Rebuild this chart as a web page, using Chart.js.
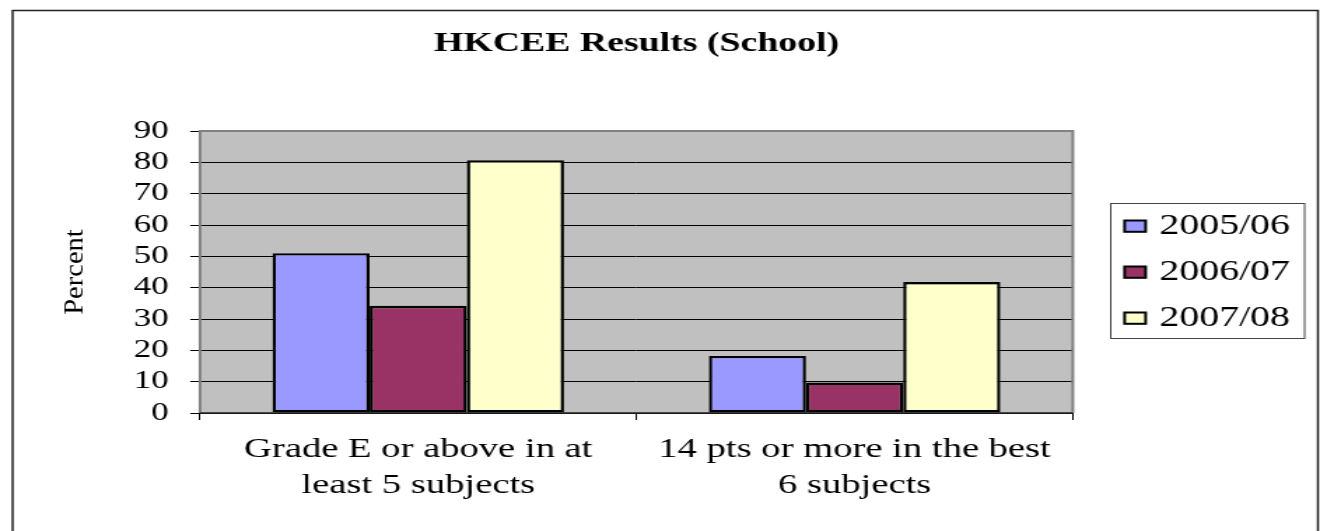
<!DOCTYPE html>
<html>
<head>
<meta charset="utf-8">
<script src="https://cdn.jsdelivr.net/npm/chart.js@4"></script>
<style>
  html, body { margin: 0; padding: 0; background: #fff; }
</style>
</head>
<body>
<!-- drawn narrow and stretched sideways, like the original picture -->
<canvas id="chart" width="943" height="531" style="display:block;width:1320px;height:531px"></canvas>
<script>
const categories = [
  ["Grade E or above in at", "least 5 subjects"],
  ["14 pts or more in the best", "6 subjects"],
]
const seriesNames = ["2005/06", "2006/07", "2007/08"]
const values0506 = [51, 18.2]
const values0607 = [34.2, 9.7]
const values0708 = [80.7, 41.8]
const seriesColors = ["#9999FF", "#993366", "#FFFFCC"]
const yMin = 0
const yMax = 90
const yStep = 10

const serif = "'Liberation Serif', 'Times New Roman', serif"

const frames = {
  id: "frames",
  beforeDraw(chart) {
    const { ctx, chartArea: a } = chart
    ctx.save()
    ctx.fillStyle = "#fff"
    ctx.fillRect(0, 0, chart.width, chart.height)
    ctx.strokeStyle = "#222"
    ctx.lineWidth = 1.5
    ctx.strokeRect(9, 10.5, chart.width - 10.5, chart.height + 20)
    ctx.fillStyle = "#C0C0C0"
    ctx.fillRect(a.left, a.top, a.right - a.left, a.bottom - a.top)
    ctx.restore()
  },
  beforeDatasetsDraw(chart) {
    const { ctx, chartArea: a } = chart
    ctx.save()
    ctx.strokeStyle = "#808080"
    ctx.lineWidth = 2
    ctx.beginPath()
    ctx.moveTo(a.left, a.bottom)
    ctx.lineTo(a.left, a.top)
    ctx.lineTo(a.right, a.top)
    ctx.lineTo(a.right, a.bottom)
    ctx.stroke()
    ctx.strokeStyle = "#222"
    ctx.lineWidth = 1.5
    ctx.beginPath()
    ctx.moveTo(a.left, a.bottom)
    ctx.lineTo(a.right, a.bottom)
    ctx.stroke()
    ctx.restore()
  },
  afterDraw(chart) {
    const { ctx, chartArea: a } = chart
    const cy = (a.top + a.bottom) / 2

    // y axis title, squeezed like the original
    ctx.save()
    ctx.translate(54.5, cy)
    ctx.rotate(-Math.PI / 2)
    ctx.scale(1.5, 1)
    ctx.fillStyle = "#000"
    ctx.font = `19px ${serif}`
    ctx.textAlign = "center"
    ctx.textBaseline = "middle"
    ctx.fillText("Percent", 0, 0)
    ctx.restore()

    // legend box
    ctx.save()
    ctx.strokeStyle = "#444"
    ctx.lineWidth = 1
    ctx.strokeRect(Math.round(a.right + 27) + 0.5, Math.round(cy - 69) + 0.5, 138.5, 135)
    const x0 = a.right + 36
    chart.data.datasets.forEach((ds, i) => {
      const y = cy + (i - 1) * 46
      ctx.fillStyle = ds.backgroundColor
      ctx.fillRect(x0 + 1, y - 5.5, 15, 11.3)
      ctx.strokeStyle = "#000"
      ctx.lineWidth = 2
      ctx.strokeRect(x0 + 1, y - 5.5, 15, 11.3)
      ctx.fillStyle = "#000"
      ctx.font = `28.5px ${serif}`
      ctx.textBaseline = "middle"
      ctx.fillText(ds.label, x0 + 25.8, y + 1)
    })
    ctx.restore()
  },
}

const values = [values0506, values0607, values0708]

new Chart(document.getElementById("chart"), {
  type: "bar",
  data: {
    labels: categories,
    datasets: seriesNames.map((name, i) => ({
      label: name,
      data: values[i],
      backgroundColor: seriesColors[i],
      borderColor: "#000",
      borderWidth: 2.4,
      borderSkipped: false,
      categoryPercentage: 0.668,
      barPercentage: 1,
    })),
  },
  options: {
    responsive: false,
    animation: false,
    events: [],
    layout: { padding: { left: 30, right: 176.6, top: 0, bottom: 0 } },
    plugins: {
      legend: { display: false },
      tooltip: { enabled: false },
      title: {
        display: true,
        fullSize: false,
        text: "HKCEE Results (School)",
        color: "#000",
        font: { family: serif, size: 27, weight: "bold", lineHeight: 1.2 },
        padding: { top: 28, bottom: 70.6 },
      },
    },
    scales: {
      x: {
        grid: {
          display: true,
          drawOnChartArea: false,
          offset: true,
          color: "#000",
          tickLength: 7,
        },
        border: { display: false },
        ticks: {
          color: "#000",
          padding: 12,
          maxRotation: 0,
          autoSkip: false,
          font: { family: serif, size: 27.6, lineHeight: 1.3 },
        },
        afterFit: (scale) => { scale.height = 118 },
      },
      y: {
        min: yMin,
        max: yMax,
        grid: { color: "#000", tickLength: 7 },
        border: { display: false },
        ticks: {
          stepSize: yStep,
          autoSkip: false,
          color: "#000",
          padding: 15.4,
          font: { family: serif, size: 25 },
        },
        afterFit: (scale) => { scale.width = 112.9 },
      },
    },
  },
  plugins: [frames],
})
</script>
</body>
</html>
